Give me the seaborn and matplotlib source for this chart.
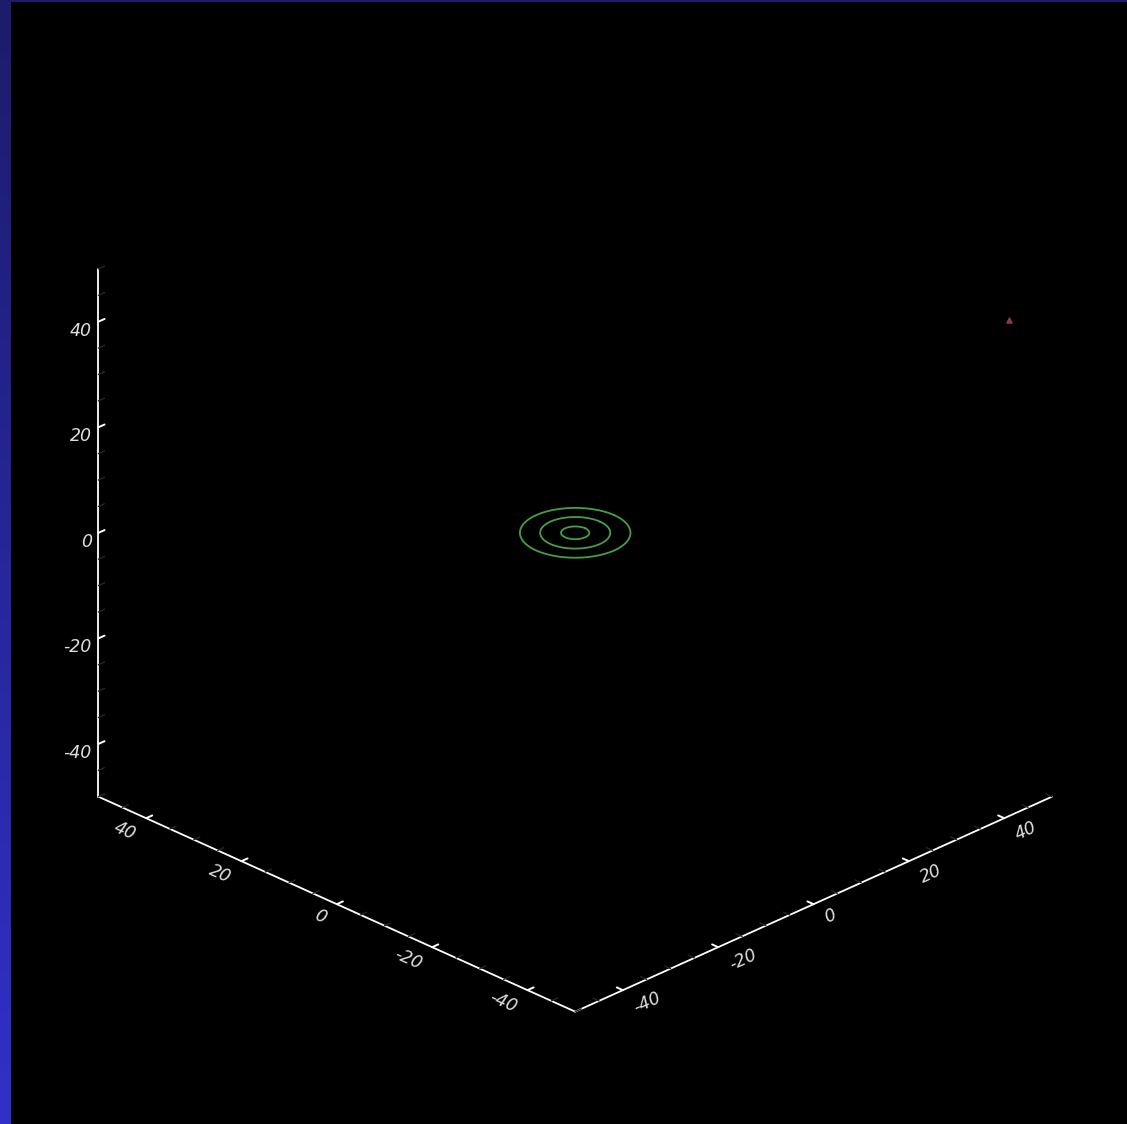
import numpy as np
import matplotlib
matplotlib.use("Agg")
import matplotlib.pyplot as plt
import seaborn as sns
from matplotlib.ticker import MultipleLocator, FixedLocator, FixedFormatter
from matplotlib.colors import LinearSegmentedColormap

sns.set_theme(style="dark")
plt.rcParams['font.family'] = ['DejaVu Sans']

# ---- data ----
axis_limits = [-50, 50]
major_ticks = [-40, -20, 0, 20, 40]
tick_labels = ['-40', '-20', '0', '20', '40']
minor_step = 5
ring_radii = [2.1, 5.2, 8.2]
ring_level = 0
ring_center = [0, 0]
point_x = [46]
point_y = [-45]
point_z = [40]

ring_color = sns.blend_palette(["#3a8f3a", "#50b050"], 3)[1]
point_color = "#8a3a48"
text_color = "#dedede"

fig = plt.figure(figsize=(11.27, 11.24), dpi=100, facecolor='black')

ax = fig.add_axes([-3.5 / 1127, 14 / 1124, 1, 1], projection='3d')
ax.set_facecolor('black')
ax.patch.set_alpha(0)
ax.set_proj_type('ortho')
ax.view_init(elev=26.8, azim=-135)
ax.set_box_aspect((1, 1, 0.877), zoom=0.969)
ax.set_xlim(*axis_limits)
ax.set_ylim(*axis_limits)
ax.set_zlim(*axis_limits)
ax.grid(False)

theta = np.linspace(0, 2 * np.pi, 240)
for r in ring_radii:
    ax.plot(ring_center[0] + r * np.cos(theta), ring_center[1] + r * np.sin(theta),
            ring_level, color=ring_color, lw=1.3)
ax.scatter(point_x, point_y, point_z, color=point_color, s=14, marker='^', depthshade=False)

for a in (ax.xaxis, ax.yaxis, ax.zaxis):
    a.set_pane_color((0, 0, 0, 0))
    a.pane.set_edgecolor((0, 0, 0, 0))
    a.line.set_color('white')
    a.line.set_linewidth(1.3)
    a.set_major_locator(FixedLocator(major_ticks))
    a.set_major_formatter(FixedFormatter(tick_labels))
    a.set_minor_locator(MultipleLocator(minor_step))
    a._axinfo['tick']['inward_factor'] = 0.0
    a._axinfo['tick']['outward_factor'] = 0.16
    a._axinfo['tick']['linewidth'] = {True: 1.4, False: 1.0}

ax.tick_params(colors='white', labelcolor=text_color, labelsize=12.5)
ax.tick_params(axis='x', labelrotation=24, pad=-1)
ax.tick_params(axis='y', labelrotation=-24, pad=-1)
ax.tick_params(axis='z', pad=-5)
for lab in ax.get_xticklabels():
    lab.set_fontstyle('italic')
    lab.set_horizontalalignment('left')
    lab.set_verticalalignment('center')
for lab in ax.get_yticklabels():
    lab.set_fontstyle('italic')
    lab.set_horizontalalignment('right')
    lab.set_verticalalignment('center')
for lab in ax.get_zticklabels():
    lab.set_fontstyle('italic')
    lab.set_horizontalalignment('right')

# frame strips (drawn on top of the 3D axes)
left = fig.add_axes([0, 0, 11 / 1127, 1], zorder=5)
grad = np.linspace(0, 1, 256).reshape(-1, 1)
cm = LinearSegmentedColormap.from_list("strip", ["#1c1c6c", "#3230c8"])
left.imshow(grad, cmap=cm, aspect='auto', extent=[0, 1, 0, 1], origin='upper')
left.set_axis_off()
top = fig.add_axes([0, 1 - 2 / 1124, 1, 2 / 1124], zorder=5)
top.set_facecolor("#1c1c6c")
top.set_xticks([]); top.set_yticks([])
for s in top.spines.values():
    s.set_visible(False)

fig.savefig("out.png", dpi=100, facecolor='black')
